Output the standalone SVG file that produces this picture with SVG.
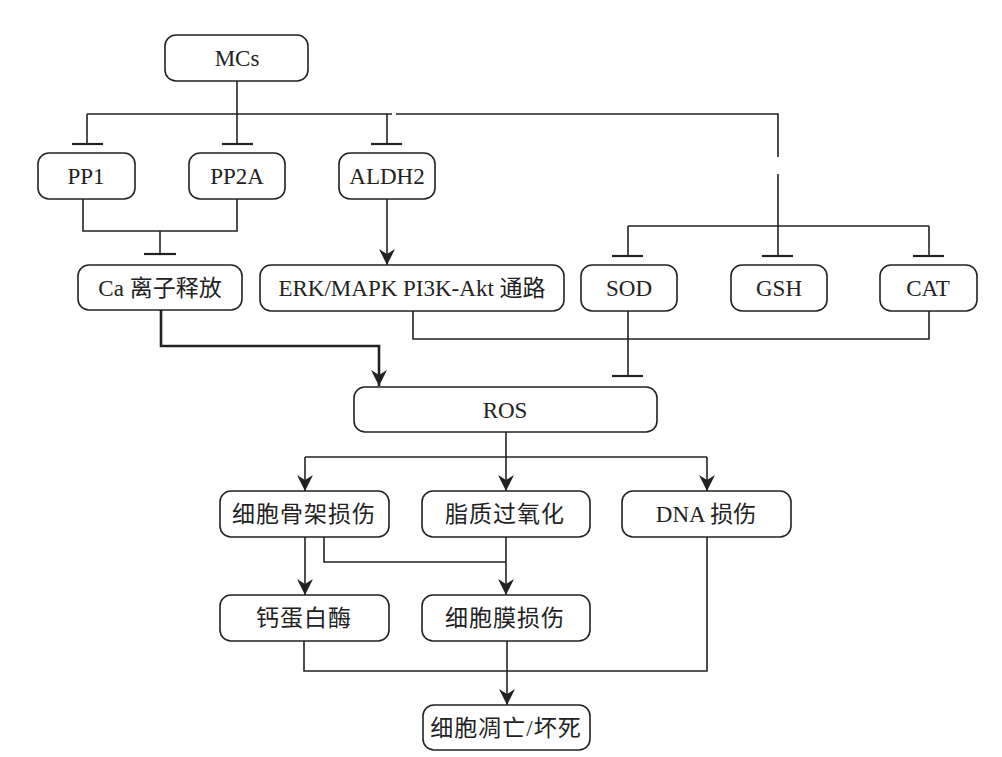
<svg xmlns="http://www.w3.org/2000/svg" width="1002" height="757" viewBox="0 0 1002 757">
<style>
.box{fill:#fff;stroke:#222;stroke-width:1.6}
.t{font-family:"Liberation Serif","Noto Sans CJK SC",serif;font-size:23px;fill:#222;text-anchor:middle}
.c{fill:none;stroke:#222;stroke-width:1.6}
.thick{stroke-width:2.6}
.bar{stroke:#222;stroke-width:2.2}
</style>
<defs>
<marker id="arr" viewBox="0 0 16 16" refX="16" refY="8" markerWidth="16" markerHeight="16" markerUnits="userSpaceOnUse" orient="auto">
<path d="M0,0 L16,8 L0,16 L5,8 Z" fill="#222"/>
</marker>
</defs>
<rect width="1002" height="757" fill="#fff"/>
<g id="connectors">
<path class="c" d="M237,81 V114"/>
<path class="c" d="M87,114 H392"/>
<path class="c" d="M396,114 H778 V157"/>
<path class="c" d="M778,174 V256"/>
<path class="c" d="M87,114 V144"/>
<line class="bar" x1="72" y1="144" x2="103" y2="144"/>
<path class="c" d="M237,114 V144"/>
<line class="bar" x1="222" y1="144" x2="253" y2="144"/>
<path class="c" d="M387,114 V144"/>
<line class="bar" x1="371" y1="144" x2="402" y2="144"/>
<path class="c" d="M83,199 V231 H237 V199"/>
<path class="c" d="M160,231 V254"/>
<line class="bar" x1="144" y1="254" x2="176" y2="254"/>
<path class="c" d="M387,199 V265" marker-end="url(#arr)"/>
<path class="c" d="M628,226 H929"/>
<path class="c" d="M628,226 V256"/>
<path class="c" d="M929,226 V256"/>
<line class="bar" x1="612" y1="256" x2="643" y2="256"/>
<line class="bar" x1="762" y1="256" x2="793" y2="256"/>
<line class="bar" x1="913" y1="256" x2="944" y2="256"/>
<path class="c thick" d="M161,310 V346 H379 V386" marker-end="url(#arr)"/>
<path class="c" d="M413,311 V339 H929 V311"/>
<path class="c" d="M628,311 V376"/>
<line class="bar" x1="612" y1="376" x2="643" y2="376"/>
<path class="c" d="M506,432 V491" marker-end="url(#arr)"/>
<path class="c" d="M305,457 H707"/>
<path class="c" d="M305,457 V491" marker-end="url(#arr)"/>
<path class="c" d="M707,457 V491" marker-end="url(#arr)"/>
<path class="c" d="M305,537 V595" marker-end="url(#arr)"/>
<path class="c" d="M324,537 V562 H506"/>
<path class="c" d="M506,537 V595" marker-end="url(#arr)"/>
<path class="c" d="M304,641 V671 H707 V537"/>
<path class="c" d="M507,641 V705" marker-end="url(#arr)"/>
</g>
<g id="n-mcs"><rect class="box" x="165" y="35" width="143" height="46" rx="11"/><text class="t" x="237" y="66">MCs</text></g>
<g id="n-pp1"><rect class="box" x="38" y="153" width="97" height="46" rx="11"/><text class="t" x="86" y="184">PP1</text></g>
<g id="n-pp2a"><rect class="box" x="189" y="153" width="96" height="46" rx="11"/><text class="t" x="237" y="184">PP2A</text></g>
<g id="n-aldh2"><rect class="box" x="339" y="153" width="96" height="46" rx="11"/><text class="t" x="387" y="184">ALDH2</text></g>
<g id="n-ca"><rect class="box" x="78" y="265" width="164" height="45" rx="11"/><text class="t" x="160" y="296">Ca 离子释放</text></g>
<g id="n-erk"><rect class="box" x="260" y="265" width="304" height="46" rx="11"/><text class="t" x="412" y="296">ERK/MAPK PI3K-Akt 通路</text></g>
<g id="n-sod"><rect class="box" x="581" y="265" width="96" height="46" rx="11"/><text class="t" x="629" y="296">SOD</text></g>
<g id="n-gsh"><rect class="box" x="731" y="265" width="96" height="46" rx="11"/><text class="t" x="779" y="296">GSH</text></g>
<g id="n-cat"><rect class="box" x="880" y="265" width="97" height="46" rx="11"/><text class="t" x="928" y="296">CAT</text></g>
<g id="n-ros"><rect class="box" x="354" y="387" width="303" height="45" rx="11"/><text class="t" x="505" y="418">ROS</text></g>
<g id="n-cyto"><rect class="box" x="220" y="491" width="169" height="46" rx="11"/><text class="t" x="304" y="522" letter-spacing="1">细胞骨架损伤</text></g>
<g id="n-lipid"><rect class="box" x="422" y="491" width="168" height="46" rx="11"/><text class="t" x="505" y="522" letter-spacing="1">脂质过氧化</text></g>
<g id="n-dna"><rect class="box" x="622" y="491" width="169" height="46" rx="11"/><text class="t" x="706" y="522">DNA 损伤</text></g>
<g id="n-calpain"><rect class="box" x="220" y="595" width="169" height="46" rx="11"/><text class="t" x="304" y="626" letter-spacing="1">钙蛋白酶</text></g>
<g id="n-membrane"><rect class="box" x="422" y="595" width="168" height="46" rx="11"/><text class="t" x="505" y="626" letter-spacing="1">细胞膜损伤</text></g>
<g id="n-death"><rect class="box" x="423" y="705" width="167" height="45" rx="11"/><text class="t" x="506" y="736" letter-spacing="1">细胞凋亡/坏死</text></g>
</svg>
